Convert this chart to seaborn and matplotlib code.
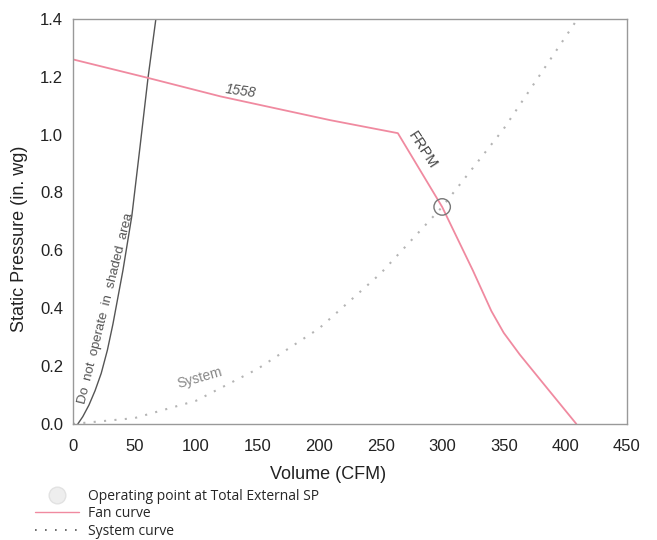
import numpy as np
import pandas as pd
import seaborn as sns
import matplotlib.pyplot as plt
from matplotlib.lines import Line2D

# Fan curve (1558 RPM)
fan_cfm = [0, 61, 120, 209, 264, 300, 325, 340, 350, 363, 385, 409]
fan_sp = [1.26, 1.196, 1.132, 1.05, 1.005, 0.75, 0.53, 0.39, 0.315, 0.24, 0.125, 0.0]

# System curve
sys_cfm = [0, 50, 100, 150, 200, 250, 300, 350, 410]
sys_sp = [0.0, 0.02, 0.08, 0.19, 0.33, 0.52, 0.75, 1.02, 1.40]

# Limit line "do not operate in shaded area"
lim_cfm = [4, 8, 13, 18, 23, 28, 32.5, 40.6, 47.9, 54.4, 61, 67.4]
lim_sp = [0.0, 0.025, 0.065, 0.115, 0.175, 0.255, 0.345, 0.53, 0.72, 0.954, 1.196, 1.4]

# Operating point
op_cfm = [300]
op_sp = [0.75]

x_ticks = [0, 50, 100, 150, 200, 250, 300, 350, 400, 450]
y_ticks = [0.0, 0.2, 0.4, 0.6, 0.8, 1.0, 1.2, 1.4]

fan_color = "#f08aa0"
sys_color = "#b4b4b4"

sns.set_theme(style="white")
plt.rcParams["font.family"] = ["Liberation Sans", "DejaVu Sans"]

fig = plt.figure(figsize=(6.57, 5.4), dpi=100)
ax = fig.add_axes([0.111, 0.215, 0.843, 0.75])

fan = pd.DataFrame({"cfm": fan_cfm, "sp": fan_sp})
sysc = pd.DataFrame({"cfm": sys_cfm, "sp": sys_sp})
lim = pd.DataFrame({"cfm": lim_cfm, "sp": lim_sp})

sns.lineplot(data=lim, x="cfm", y="sp", ax=ax, color="#555555", linewidth=1.0,
             sort=False, estimator=None)
sns.lineplot(data=sysc, x="cfm", y="sp", ax=ax, color=sys_color, linewidth=1.5,
             linestyle=(0, (1, 4)), sort=False, estimator=None)
sns.lineplot(data=fan, x="cfm", y="sp", ax=ax, color=fan_color, linewidth=1.3,
             sort=False, estimator=None)
ax.scatter(op_cfm, op_sp, s=140, facecolors="none", edgecolors="#777777",
           linewidths=1.0, zorder=5)

ax.set_xlim(0, 450)
ax.set_ylim(0, 1.4)
ax.set_xticks(x_ticks)
ax.set_yticks(y_ticks)
ax.set_yticklabels([f"{v:.1f}" for v in y_ticks])
ax.tick_params(axis="x", labelsize=12, length=0, pad=11, colors="#222222")
ax.tick_params(axis="y", labelsize=12, length=0, pad=7, colors="#222222")
for sp in ax.spines.values():
    sp.set_color("#999999")
    sp.set_linewidth(1.0)

ax.set_xlabel("Volume (CFM)", fontsize=13, color="#222222")
ax.set_ylabel("Static Pressure (in. wg)", fontsize=13, color="#222222")
ax.xaxis.set_label_coords(0.461, -0.104)
ax.yaxis.set_label_coords(-0.081, 0.457)

# Curve labels
ax.text(136, 1.15, "1558", fontsize=10, color="#555555", rotation=-8,
        ha="center", va="center", style="italic")
ax.text(284, 0.945, "FRPM", fontsize=10.5, color="#444444", rotation=-57,
        ha="center", va="center")
ax.text(103, 0.16, "System", fontsize=10, color="#888888", rotation=16,
        ha="center", va="center")
ax.text(27, 0.40, "Do  not  operate  in  shaded  area", fontsize=9.5,
        color="#555555", rotation=76, ha="center", va="center")

# Legend below the axes
handles = [
    Line2D([], [], marker="o", linestyle="none", markersize=12,
           markerfacecolor="#eeeeee", markeredgecolor="#e2e2e2"),
    Line2D([], [], color=fan_color, linewidth=1.0),
    Line2D([], [], color="#555555", linewidth=1.2, linestyle=(0, (1, 5))),
]
labels = ["Operating point at Total External SP", "Fan curve", "System curve"]
fig.legend(handles, labels, loc="upper left", bbox_to_anchor=(35 / 657, 0.095),
           frameon=False, handlelength=3.2, handletextpad=0.6,
           labelspacing=0.19, borderpad=0, borderaxespad=0,
           prop={"family": ["Open Sans", "DejaVu Sans"], "size": 10})

fig.savefig("out.png", dpi=100)
